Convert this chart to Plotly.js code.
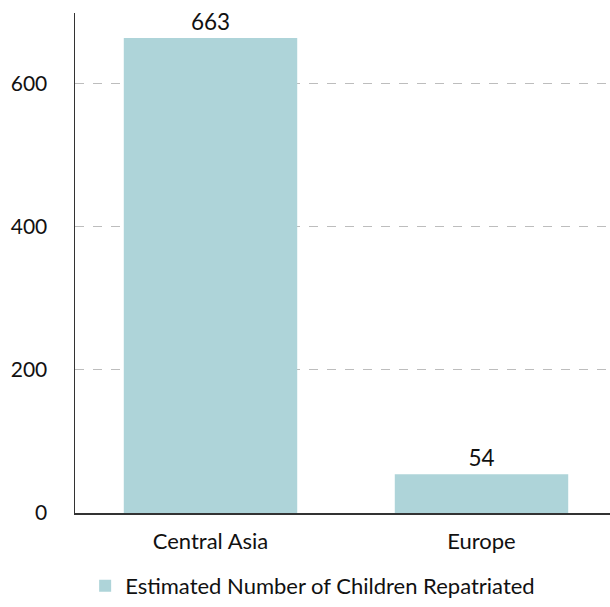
<!DOCTYPE html>
<html>
<head>
<meta charset="utf-8">
<script src="https://cdn.plot.ly/plotly-3.0.1.min.js"></script>
<style>html,body{margin:0;padding:0;overflow:hidden;background:#fff;}</style>
</head>
<body>
<div id="chart" style="width:617px;height:607px;"></div>
<script>
const categories = ["Central Asia", "Europe"];
const values = [663, 54];
const seriesName = "Estimated Number of Children Repatriated";
const yTicks = [0, 200, 400, 600];

const trace = {
  type: "bar",
  x: categories,
  y: values,
  name: seriesName,
  text: values.map(String),
  textposition: "outside",
  cliponaxis: false,
  textfont: {family: "Lato", size: 22.5, color: "#111"},
  marker: {color: "#aed4d9"},
  showlegend: true
};

const layout = {
  width: 617,
  height: 607,
  margin: {l: 75, r: 0, t: 13, b: 94},
  paper_bgcolor: "#fff",
  plot_bgcolor: "#fff",
  font: {family: "Lato", size: 22, color: "#111"},
  bargap: 0.36,
  xaxis: {
    type: "category",
    showline: true,
    linecolor: "#333",
    linewidth: 1.5,
    ticks: "",
    showgrid: false,
    ticklabelstandoff: 8,
    automargin: false,
    tickfont: {family: "Lato", size: 22, color: "#111"}
  },
  yaxis: {
    range: [0, 698],
    tickvals: yTicks,
    ticktext: yTicks.map(String),
    showline: true,
    linecolor: "#333",
    linewidth: 1.5,
    ticks: "",
    ticklabelstandoff: 22,
    automargin: false,
    zeroline: false,
    showgrid: true,
    gridcolor: "#bdbdbd",
    griddash: "dash",
    gridwidth: 1,
    tickfont: {family: "Lato", size: 21, color: "#111"}
  },
  legend: {
    orientation: "h",
    xref: "container",
    yref: "container",
    x: 0.138,
    xanchor: "left",
    y: -0.008,
    yanchor: "bottom",
    font: {family: "Lato", size: 22, color: "#111"}
  }
};

Plotly.newPlot("chart", [trace], layout, {displayModeBar: false, staticPlot: true});
</script>
</body>
</html>
